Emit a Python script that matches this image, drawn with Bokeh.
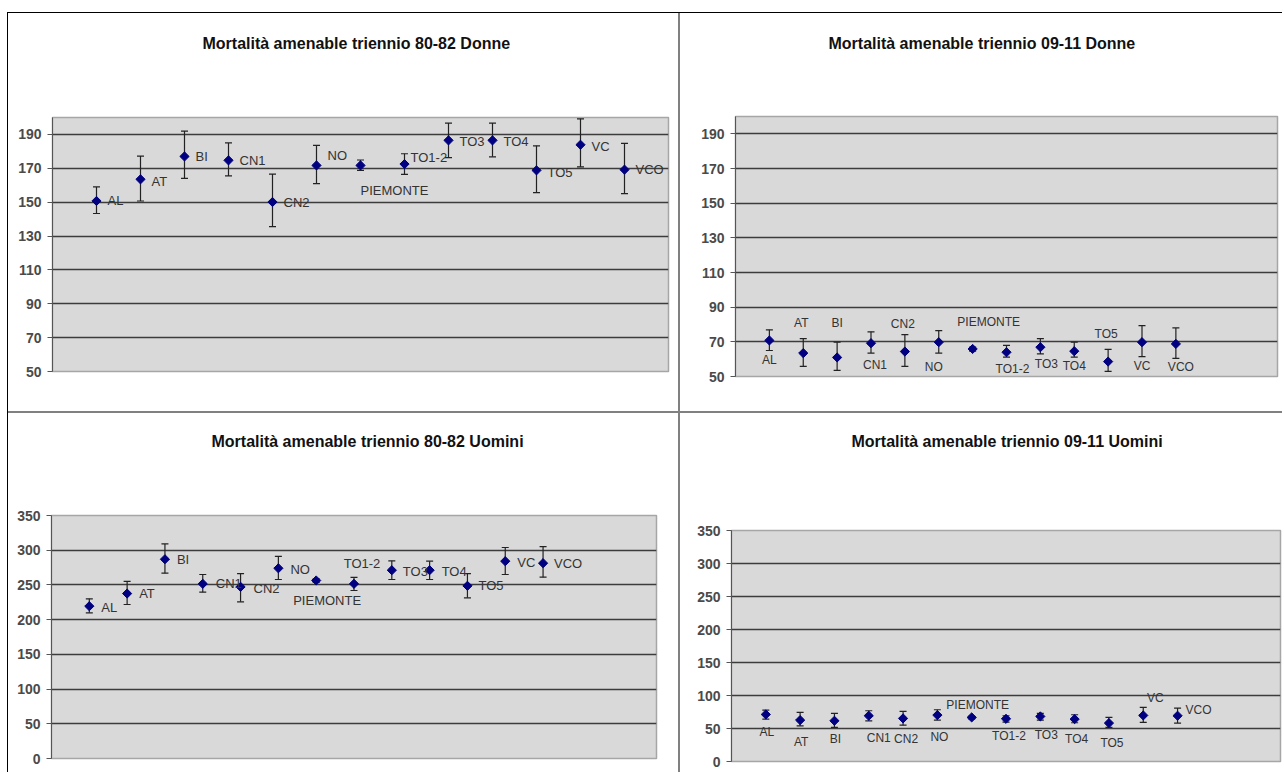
from bokeh.plotting import figure
from bokeh.layouts import column, row
from bokeh.models import ColumnDataSource, Whisker, TeeHead, Range1d, FixedTicker, Spacer, Title
from bokeh.embed import file_html
from bokeh.resources import INLINE
from bokeh.core.properties import value

# ---------------- data ----------------
categories = ["AL", "AT", "BI", "CN1", "CN2", "NO", "PIEMONTE",
              "TO1-2", "TO3", "TO4", "TO5", "VC", "VCO"]

donne_80_82_rate = [150.7, 163.5, 177.0, 174.7, 150.1, 171.7, 171.7, 172.5, 186.5, 186.5, 168.8, 183.9, 169.2]
donne_80_82_low  = [143.3, 150.7, 164.0, 165.5, 135.6, 161.0, 168.8, 166.4, 176.3, 176.8, 155.6, 170.8, 155.0]
donne_80_82_high = [159.0, 177.2, 192.0, 185.0, 166.6, 183.5, 174.9, 178.6, 196.7, 196.7, 183.3, 199.2, 184.7]

donne_09_11_rate = [70.8, 63.5, 61.0, 69.2, 64.4, 69.8, 65.9, 64.0, 66.9, 64.6, 58.6, 69.8, 68.8]
donne_09_11_low  = [65.0, 55.8, 53.5, 63.5, 55.8, 63.5, 64.6, 61.2, 63.0, 61.2, 52.9, 61.5, 60.4]
donne_09_11_high = [76.9, 71.8, 69.8, 75.8, 74.2, 76.5, 67.0, 67.9, 71.8, 69.8, 65.7, 79.4, 78.0]

uomini_80_82_rate = [219.4, 237.6, 287.0, 251.6, 247.2, 274.0, 256.4, 251.6, 271.2, 271.2, 248.7, 284.2, 281.3]
uomini_80_82_low  = [209.8, 221.8, 267.0, 239.6, 225.6, 257.8, 253.5, 242.0, 257.8, 257.8, 231.4, 265.0, 261.2]
uomini_80_82_high = [230.0, 255.0, 309.0, 265.0, 266.4, 291.0, 258.8, 261.0, 284.7, 284.2, 266.4, 303.9, 305.3]

uomini_09_11_rate = [71.3, 62.7, 61.7, 69.3, 65.3, 70.3, 66.8, 64.7, 68.3, 64.2, 58.2, 69.8, 69.3]
uomini_09_11_low  = [64.2, 54.0, 51.6, 61.7, 55.1, 62.7, 64.7, 59.7, 62.7, 58.7, 51.6, 59.2, 58.2]
uomini_09_11_high = [77.9, 74.4, 72.8, 76.9, 75.9, 78.4, 68.3, 69.3, 72.8, 70.8, 66.8, 82.0, 80.9]

donne_ticks = [50, 70, 90, 110, 130, 150, 170, 190]
uomini_ticks = [0, 50, 100, 150, 200, 250, 300, 350]

titles = ["Mortalità amenable triennio 80-82 Donne",
          "Mortalità amenable triennio 09-11 Donne",
          "Mortalità amenable triennio 80-82 Uomini",
          "Mortalità amenable triennio 09-11 Uomini"]

# ---------------- label placement (style: pixel offsets, dy upward) ----------------
R = lambda dy=0, dx=11: (dx, dy, "left")
C = lambda dx, dy: (dx, dy, "center")

place_p1 = [R(0), R(-2), R(0), R(0), R(-1), R(10), (0, -25, "left"), R(7, 6),
            R(-1), R(-1), R(-2), R(-2), R(0)]
place_p2 = [C(0, -20), C(-2, 30), C(0, 34), C(4, -22), C(-2, 28), C(-5, -25), C(16, 27),
            C(6, -17), C(6, -17), C(0, -15), C(-2, 28), C(0, -24), C(5, -23)]
place_p3 = [R(-1, 12), R(0, 12), R(0, 12), R(0, 13), R(-2, 13), R(-1, 12), (-23, -20, "left"),
            C(8, 20), R(-1, 11), R(-1, 12), R(0, 11), R(-1, 12), R(0, 11)]
place_p4 = [C(1, -18), C(1, -22), C(1, -18), C(10, -22), C(3, -21), C(2, -22), C(6, 12),
            C(3, -17), C(6, -19), C(2, -20), C(3, -20), C(12, 17), (8, 6, "left")]

FONT = "Liberation Sans"


def make_panel(title, rate, low, high, y0, y1, ticks, x_end, width, height,
               borders, placements, label_px, shadow, title_gap, title_left):
    bl, br, bt, bb = borders
    xs = [i + 1 for i in range(len(categories))]
    p = figure(width=width, height=height, x_range=Range1d(0, x_end), y_range=Range1d(y0, y1),
               output_backend="svg", toolbar_location=None, x_axis_location=None,
               min_border_left=bl, min_border_right=br, min_border_top=bt, min_border_bottom=bb,
               border_fill_color=None, background_fill_color="#d9d9d9",
               outline_line_color="#a6a6a6", outline_line_width=1.5,
               frame_align=False, styles={"box-shadow": shadow})
    # spacer (closest to the frame) then the real title
    p.add_layout(Title(text=" ", text_font_size="1px", standoff=title_gap), "above")
    p.add_layout(Title(text=title, align="left", offset=title_left, standoff=0,
                       text_font=FONT, text_font_size="16px", text_font_style="bold",
                       text_color="#111111"), "above")

    p.xgrid.visible = False
    p.yaxis.ticker = FixedTicker(ticks=ticks)
    p.ygrid.ticker = FixedTicker(ticks=ticks[1:-1] if y1 == ticks[-1] else ticks[1:])
    p.ygrid.grid_line_color = "#3c3c3c"
    p.ygrid.grid_line_width = 1.6
    p.yaxis.axis_line_color = "#555555"
    p.yaxis.major_tick_line_color = "#555555"
    p.yaxis.major_tick_out = 5
    p.yaxis.major_tick_in = 0
    p.yaxis.minor_tick_line_color = None
    p.yaxis.major_label_text_font = FONT
    p.yaxis.major_label_text_font_size = "14px"
    p.yaxis.major_label_text_font_style = "bold"
    p.yaxis.major_label_text_color = "#4a4a4a"
    p.yaxis.major_label_standoff = 6

    src = ColumnDataSource(dict(x=xs, rate=rate, low=low, high=high, label=categories,
                                dx=[pl[0] for pl in placements],
                                dy=[-pl[1] for pl in placements],
                                align=[pl[2] for pl in placements]))
    head = dict(size=7, line_color="#222222", line_width=1.2)
    p.add_layout(Whisker(base="x", lower="low", upper="high", source=src,
                         line_color="#222222", line_width=1.2,
                         upper_head=TeeHead(**head), lower_head=TeeHead(**head)))
    p.scatter("x", "rate", source=src, marker="square", angle=0.7854, size=6.5,
              fill_color="#000080", line_color="#000080")
    p.text("x", "rate", text="label", source=src, x_offset="dx", y_offset="dy",
           text_align="align", text_baseline="middle", text_font=value(FONT),
           text_font_size=value(f"{label_px}px"), text_color="#333333")
    return p


p1 = make_panel(titles[0], donne_80_82_rate, donne_80_82_low, donne_80_82_high, 50, 200,
                donne_ticks, 14, 672, 400, (45, 11, 105, 41), place_p1, 13,
                "inset 1px 1px 0 0 #000000, inset -1px -1px 0 0 #808080", 63, 150)
p2 = make_panel(titles[1], donne_09_11_rate, donne_09_11_low, donne_09_11_high, 50, 200,
                donne_ticks, 16, 603, 400, (56, 5, 104, 36), place_p2, 12,
                "inset 0 1px 0 0 #000000, inset 1px -1px 0 0 #808080", 62, 93)
p3 = make_panel(titles[2], uomini_80_82_rate, uomini_80_82_low, uomini_80_82_high, 0, 350,
                uomini_ticks, 16, 672, 360, (44, 23, 103, 14), place_p3, 13,
                "inset 1px 0 0 0 #000000, inset -1px 1px 0 0 #808080", 63, 160)
p4 = make_panel(titles[3], uomini_09_11_rate, uomini_09_11_low, uomini_09_11_high, 0, 350,
                uomini_ticks, 16, 603, 360, (52, 2, 118, 11), place_p4, 12,
                "inset 1px 1px 0 0 #808080", 78, 120)

layout = column(Spacer(width=1282, height=12),
                row(Spacer(width=7, height=400), p1, p2),
                row(Spacer(width=7, height=360), p3, p4))

open("out.html", "w").write(file_html(layout, INLINE))
